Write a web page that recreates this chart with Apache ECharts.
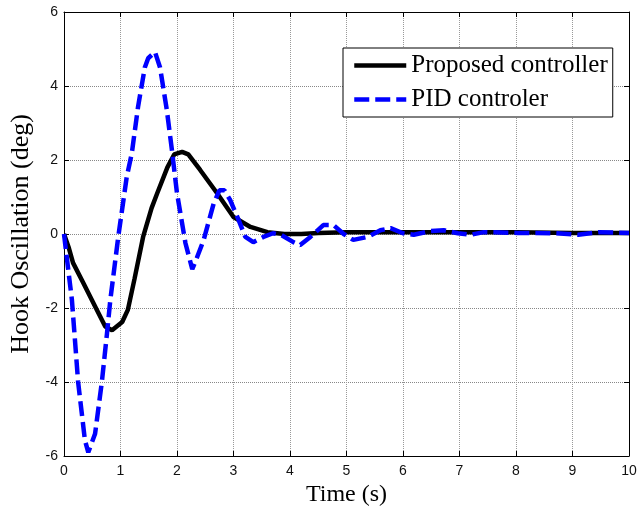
<!DOCTYPE html>
<html>
<head>
<meta charset="utf-8">
<script src="https://cdn.jsdelivr.net/npm/echarts@6/dist/echarts.min.js"></script>
<style>
  html, body { margin: 0; padding: 0; background: #fff; }
  #hook { width: 638px; height: 513px; }
</style>
</head>
<body>
<div id="hook"></div>
<script>
// proposed controller response
const propT = [0, 0.08, 0.16, 0.34, 0.58, 0.73, 0.85, 1.03, 1.13, 1.25, 1.4, 1.55, 1.65, 1.83, 1.95, 2.09, 2.2, 2.41, 2.71, 3.0, 3.3, 3.6, 3.9, 4.2, 4.5, 5, 6, 7, 8, 9, 10];
const propY = [0, -0.35, -0.78, -1.32, -2.05, -2.5, -2.6, -2.38, -2.05, -1.2, -0.08, 0.7, 1.1, 1.8, 2.15, 2.22, 2.15, 1.73, 1.1, 0.46, 0.19, 0.05, 0.0, 0.0, 0.03, 0.05, 0.05, 0.05, 0.05, 0.03, 0.03];
// PID response
const pidT = [0, 0.07, 0.14, 0.25, 0.37, 0.43, 0.55, 0.67, 0.76, 0.82, 0.96, 1.11, 1.2, 1.31, 1.43, 1.49, 1.61, 1.7, 1.82, 1.91, 2.0, 2.15, 2.27, 2.35, 2.47, 2.65, 2.75, 2.84, 2.94, 3.09, 3.21, 3.35, 3.53, 3.7, 3.85, 4.06, 4.18, 4.36, 4.59, 4.77, 4.95, 5.12, 5.37, 5.6, 5.78, 6.0, 6.19, 6.49, 6.72, 6.97, 7.2, 7.43, 8.03, 8.7, 9.1, 9.47, 10];
const pidY = [0, -0.9, -1.78, -4.0, -5.57, -5.9, -5.4, -4.0, -2.7, -1.78, -0.08, 1.54, 2.18, 3.43, 4.5, 4.75, 4.92, 4.5, 3.35, 2.27, 1.1, -0.25, -0.95, -0.65, -0.17, 0.83, 1.18, 1.18, 0.92, 0.38, -0.08, -0.22, -0.08, 0.02, -0.03, -0.22, -0.3, -0.08, 0.24, 0.24, 0.0, -0.16, -0.08, 0.1, 0.16, 0.02, -0.02, 0.08, 0.1, 0.02, -0.02, 0.05, 0.03, 0.02, -0.02, 0.05, 0.03];
const seriesNames = ["Proposed controller", "PID controler"];

function pairs(t, y) {
  return t.map((v, i) => [v, y[i]]);
}

let chart = echarts.init(document.getElementById("hook"));
let serif = "Liberation Serif";
let sans = "Liberation Sans";

let frameAxis = {
  axisLine: { show: true, onZero: false, lineStyle: { color: "#000", width: 1 } },
  axisTick: { show: true, inside: true, length: 5, lineStyle: { color: "#000" } },
  splitLine: { show: false },
  axisLabel: { show: false }
};

let option = {
  animation: false,
  backgroundColor: "#fff",
  grid: { left: 64, right: 9, top: 12, bottom: 57, outerBoundsMode: "none" },
  legend: {
    orient: "vertical",
    left: 343,
    top: 48,
    padding: [5, 5, 5, 9],
    itemGap: 9,
    itemWidth: 52,
    itemHeight: 14,
    backgroundColor: "#fff",
    borderColor: "#000",
    borderWidth: 1,
    borderRadius: 0,
    data: seriesNames,
    itemStyle: { opacity: 0 },
    lineStyle: { width: 4.5 },
    textStyle: { fontFamily: serif, fontSize: 25, color: "#000", lineHeight: 24 }
  },
  xAxis: [
    {
      type: "value",
      min: 0,
      max: 10,
      interval: 1,
      name: "Time (s)",
      nameLocation: "middle",
      nameGap: 27,
      nameTextStyle: { fontFamily: serif, fontSize: 24, color: "#000" },
      axisLine: { show: true, onZero: false, lineStyle: { color: "#000", width: 1 } },
      axisTick: { show: true, inside: true, length: 5, lineStyle: { color: "#000" } },
      axisLabel: { fontFamily: sans, fontSize: 14, color: "#111", margin: 8 },
      splitLine: { show: true, lineStyle: { color: "#999", type: "dotted", width: 1 } }
    },
    Object.assign({ type: "value", min: 0, max: 10, interval: 1, position: "top" }, frameAxis)
  ],
  yAxis: [
    {
      type: "value",
      min: -6,
      max: 6,
      interval: 2,
      name: "Hook Oscillation (deg)",
      nameLocation: "middle",
      nameGap: 25,
      nameTextStyle: { fontFamily: serif, fontSize: 26, color: "#000" },
      axisLine: { show: true, onZero: false, lineStyle: { color: "#000", width: 1 } },
      axisTick: { show: true, inside: true, length: 5, lineStyle: { color: "#000" } },
      axisLabel: { fontFamily: sans, fontSize: 14, color: "#111", margin: 6 },
      splitLine: { show: true, lineStyle: { color: "#888", type: "dotted", width: 1 } }
    },
    Object.assign({ type: "value", min: -6, max: 6, interval: 2, position: "right" }, frameAxis)
  ],
  series: [
    {
      name: seriesNames[0],
      type: "line",
      symbol: "none",
      data: pairs(propT, propY),
      lineStyle: { color: "#000", width: 4.5 },
      itemStyle: { color: "#000" },
      z: 3
    },
    {
      name: seriesNames[1],
      type: "line",
      symbol: "none",
      data: pairs(pidT, pidY),
      lineStyle: { color: "#0000ff", width: 4.5, type: [15, 6] },
      itemStyle: { color: "#0000ff" },
      z: 4
    }
  ]
};
chart.setOption(option);
</script>
</body>
</html>
